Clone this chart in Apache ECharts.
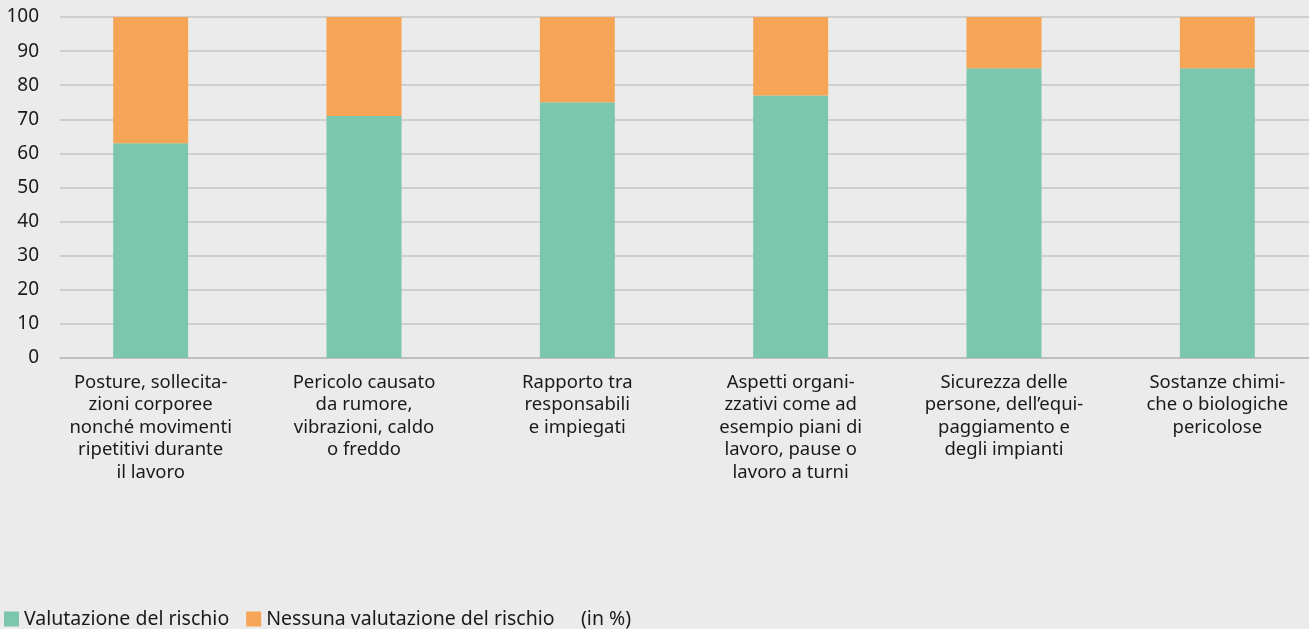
<!DOCTYPE html>
<html lang="it">
<head>
    <meta charset="UTF-8">
    <title>Valutazione del rischio</title>
    <script src="https://cdn.jsdelivr.net/npm/echarts@6/dist/echarts.min.js"></script>
    <style>
        html, body { margin: 0; padding: 0; background: #ebebeb; }
        #chart { width: 1309px; height: 629px; }
    </style>
</head>
<body>
<div id="chart"></div>
<script>
    // data
    const categories = [
        'Posture, sollecita-\nzioni corporee\nnonché movimenti\nripetitivi durante\nil lavoro',
        'Pericolo causato\nda rumore,\nvibrazioni, caldo\no freddo',
        'Rapporto tra\nresponsabili\ne impiegati',
        'Aspetti organi-\nzzativi come ad\nesempio piani di\nlavoro, pause o\nlavoro a turni',
        'Sicurezza delle\npersone, dell\u2019equi-\npaggiamento e\ndegli impianti',
        'Sostanze chimi-\nche o biologiche\npericolose'
    ];
    const valutazione = [63, 71, 75, 77, 85, 85];
    const nessuna = [37, 29, 25, 23, 15, 15];
    const seriesNames = ['Valutazione del rischio', 'Nessuna valutazione del rischio'];

    const font = '"Noto Sans", "Open Sans", sans-serif';
    const textColor = '#1a1a1a';

    let chart = echarts.init(document.getElementById('chart'));
    chart.setOption({
        backgroundColor: '#ebebeb',
        animation: false,
        textStyle: { fontFamily: font },
        legend: {
            left: 4,
            top: 609,
            padding: 0,
            itemWidth: 15,
            itemHeight: 15,
            itemGap: 17,
            icon: 'rect',
            textStyle: { fontSize: 19.5, color: textColor, fontFamily: font },
            data: seriesNames
        },
        graphic: [{
            type: 'text',
            left: 581,
            top: 609,
            style: { text: '(in %)', fontSize: 19.5, fill: textColor, fontFamily: font }
        }],
        grid: [
            // bars (category band wider than the visible plot, as in the original)
            { left: 44, width: 1280, top: 17, bottom: 271, outerBoundsMode: 'none' },
            // grid lines + y labels
            { left: 60, right: 0, top: 17, bottom: 271, outerBoundsMode: 'none' }
        ],
        xAxis: [{
            type: 'category',
            gridIndex: 0,
            data: categories,
            axisLine: { show: false },
            axisTick: { show: false },
            axisLabel: {
                interval: 0,
                margin: 13,
                fontSize: 18.5,
                lineHeight: 22.5,
                color: textColor,
                fontFamily: font,
                align: 'center'
            }
        }, {
            type: 'value',
            gridIndex: 1,
            min: 0,
            max: 1,
            axisLine: { show: true, lineStyle: { color: '#b9b9b9', width: 1.5 } },
            axisTick: { show: false },
            axisLabel: { show: false },
            splitLine: { show: false }
        }],
        yAxis: [{
            type: 'value',
            gridIndex: 0,
            min: 0,
            max: 100,
            interval: 10,
            axisLine: { show: false },
            axisTick: { show: false },
            axisLabel: { show: false },
            splitLine: { show: false }
        }, {
            type: 'value',
            gridIndex: 1,
            min: 0,
            max: 100,
            interval: 10,
            axisLine: { show: false },
            axisTick: { show: false },
            axisLabel: { fontSize: 19, color: textColor, margin: 21, fontFamily: font },
            splitLine: { lineStyle: { color: '#c6c6c6', width: 1.5 } }
        }],
        series: [{
            name: seriesNames[0],
            type: 'bar',
            stack: 'total',
            barWidth: 75,
            xAxisIndex: 0,
            yAxisIndex: 0,
            itemStyle: { color: '#7dc6ae' },
            data: valutazione,
            z: 3
        }, {
            name: seriesNames[1],
            type: 'bar',
            stack: 'total',
            barWidth: 75,
            xAxisIndex: 0,
            yAxisIndex: 0,
            itemStyle: { color: '#f6a455' },
            data: nessuna,
            z: 3
        }]
    });
</script>
</body>
</html>
